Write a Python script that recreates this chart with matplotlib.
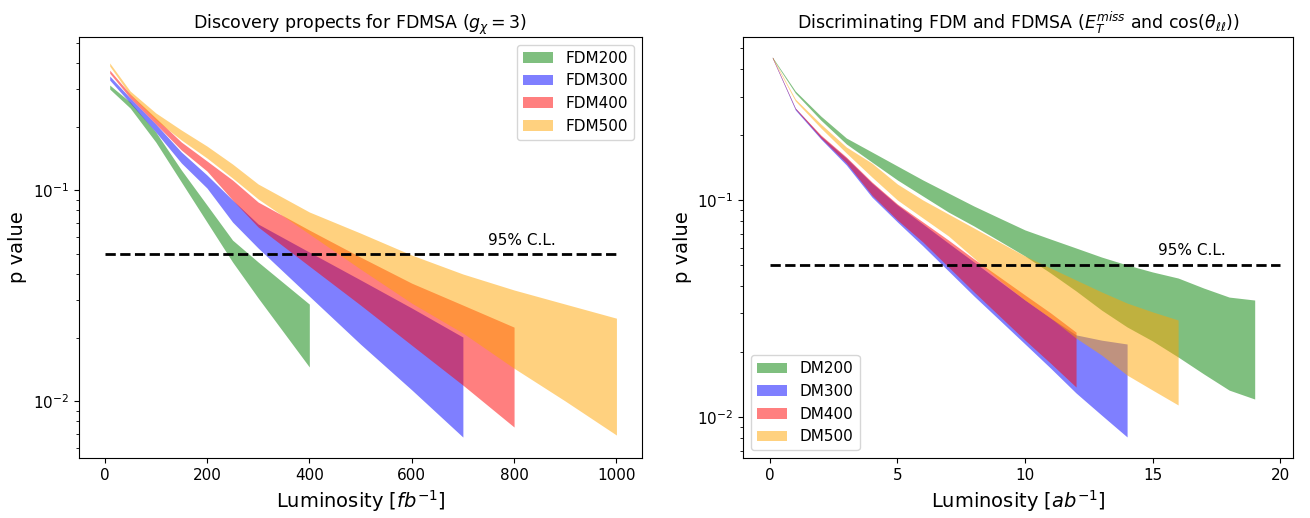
import matplotlib
matplotlib.use("Agg")
import matplotlib.pyplot as plt

# ---- left panel: discovery p value vs luminosity (fb^-1) ----
lum_fb = [10, 50, 100, 150, 200, 250, 300, 400, 500, 600, 700, 800, 900, 1000]

fdm200_hi = [0.3145, 0.261, 0.1883, 0.1244, 0.0849, 0.0579, 0.0456, 0.0288]
fdm200_lo = [0.301, 0.2446, 0.1688, 0.1091, 0.0705, 0.0456, 0.0308, 0.0145]
fdm300_hi = [0.347, 0.273, 0.2055, 0.1514, 0.1178, 0.0897, 0.069, 0.0508, 0.0375, 0.0276, 0.0201]
fdm300_lo = [0.332, 0.2584, 0.1883, 0.1343, 0.1022, 0.0705, 0.0531, 0.0314, 0.0186, 0.0113, 0.00675]
fdm400_hi = [0.370, 0.285, 0.2195, 0.1688, 0.1373, 0.1115, 0.0877, 0.0646, 0.0481, 0.0362, 0.0285, 0.0224]
fdm400_lo = [0.358, 0.273, 0.2055, 0.1547, 0.1230, 0.0897, 0.0668, 0.0436, 0.0285, 0.0184, 0.0119, 0.00753]
fdm500_hi = [0.400, 0.2945, 0.232, 0.1925, 0.1616, 0.1328, 0.1068, 0.0787, 0.0625, 0.0492, 0.040, 0.0336, 0.0288, 0.0247]
fdm500_lo = [0.387, 0.282, 0.2147, 0.1726, 0.1418, 0.1140, 0.0907, 0.0619, 0.0422, 0.0291, 0.021, 0.0143, 0.0100, 0.0069]

# ---- right panel: discrimination p value vs luminosity (ab^-1) ----
lum_ab = [0.1, 1, 2, 3, 4, 5, 6, 7, 8, 9, 10, 11, 12, 13, 14, 15, 16, 17, 18, 19]

dm200_hi = [0.456, 0.318, 0.2437, 0.1931, 0.1665, 0.1435, 0.1237, 0.1077, 0.0938, 0.0826,
            0.0728, 0.0661, 0.0601, 0.0546, 0.0502, 0.0466, 0.0437, 0.0393, 0.0357, 0.0346]
dm200_lo = [0.451, 0.311, 0.2335, 0.1813, 0.1496, 0.1237, 0.1043, 0.0880, 0.0759, 0.0648,
            0.0552, 0.0461, 0.0381, 0.0311, 0.0260, 0.0224, 0.0189, 0.0158, 0.0133, 0.0121]
dm300_hi = [0.456, 0.2655, 0.1972, 0.1561, 0.1198, 0.0948, 0.0775, 0.0633, 0.0518, 0.0423,
            0.0346, 0.0286, 0.0239, 0.0226, 0.0217]
dm300_lo = [0.451, 0.260, 0.1911, 0.1450, 0.1032, 0.0792, 0.0614, 0.0471, 0.0361, 0.0280,
            0.0217, 0.0168, 0.0129, 0.0102, 0.00809]
dm400_hi = [0.456, 0.2655, 0.1993, 0.1578, 0.1211, 0.0958, 0.0792, 0.0654, 0.0535, 0.0442,
            0.0365, 0.0302, 0.0246]
dm400_lo = [0.451, 0.2627, 0.1931, 0.1480, 0.1054, 0.0809, 0.0640, 0.0491, 0.0377, 0.0292,
            0.0226, 0.0177, 0.01374]
dm500_hi = [0.456, 0.292, 0.224, 0.1755, 0.1480, 0.1185, 0.100, 0.0862, 0.0743, 0.0640,
            0.0552, 0.0486, 0.0428, 0.0377, 0.0335, 0.0305, 0.0280]
dm500_lo = [0.451, 0.286, 0.2147, 0.1646, 0.1277, 0.100, 0.0826, 0.0683, 0.0540, 0.0428,
            0.0346, 0.0286, 0.0231, 0.0193, 0.0156, 0.0133, 0.01136]

colors = ["green", "blue", "red", "orange"]

fig = plt.figure(figsize=(13.1, 5.18), dpi=100)
ax1 = fig.add_axes([0.0603, 0.1158, 0.4298, 0.8127])
ax2 = fig.add_axes([0.5672, 0.1158, 0.4198, 0.8127])

left_bands = [("FDM200", fdm200_lo, fdm200_hi), ("FDM300", fdm300_lo, fdm300_hi),
              ("FDM400", fdm400_lo, fdm400_hi), ("FDM500", fdm500_lo, fdm500_hi)]
for (name, lo, hi), c in zip(left_bands, colors):
    ax1.fill_between(lum_fb[:len(lo)], lo, hi, color=c, alpha=0.5, lw=0, label=name)
ax1.plot([0, 1000], [0.05, 0.05], "k--", lw=2)
ax1.text(750, 0.055, "95% C.L.", fontsize=11)
ax1.set_yscale("log")
ax1.set_xlim(-50, 1050)
ax1.set_ylim(0.00537, 0.531)
ax1.set_xticks([0, 200, 400, 600, 800, 1000])
ax1.set_xlabel(r"Luminosity [$fb^{-1}$]", fontsize=14)
ax1.set_ylabel("p value", fontsize=14)
ax1.set_title(r"Discovery propects for FDMSA ($g_\chi = 3$)", fontsize=12.5)
ax1.tick_params(labelsize=11)
ax1.legend(loc="upper right", fontsize=11)

right_bands = [("DM200", dm200_lo, dm200_hi), ("DM300", dm300_lo, dm300_hi),
               ("DM400", dm400_lo, dm400_hi), ("DM500", dm500_lo, dm500_hi)]
for (name, lo, hi), c in zip(right_bands, colors):
    ax2.fill_between(lum_ab[:len(lo)], lo, hi, color=c, alpha=0.5, lw=0, label=name)
ax2.plot([0, 20], [0.05, 0.05], "k--", lw=2)
ax2.text(15.2, 0.056, "95% C.L.", fontsize=11)
ax2.set_yscale("log")
ax2.set_xlim(-1.05, 20.5)
ax2.set_ylim(0.00647, 0.564)
ax2.set_xticks([0, 5, 10, 15, 20])
ax2.set_xlabel(r"Luminosity [$ab^{-1}$]", fontsize=14)
ax2.set_ylabel("p value", fontsize=14)
ax2.set_title(r"Discriminating FDM and FDMSA ($E_T^{miss}$ and cos($\theta_{\ell\ell}$))",
              fontsize=12.5)
ax2.tick_params(labelsize=11)
ax2.legend(loc="lower left", fontsize=11)

fig.savefig("out.png", dpi=100)
